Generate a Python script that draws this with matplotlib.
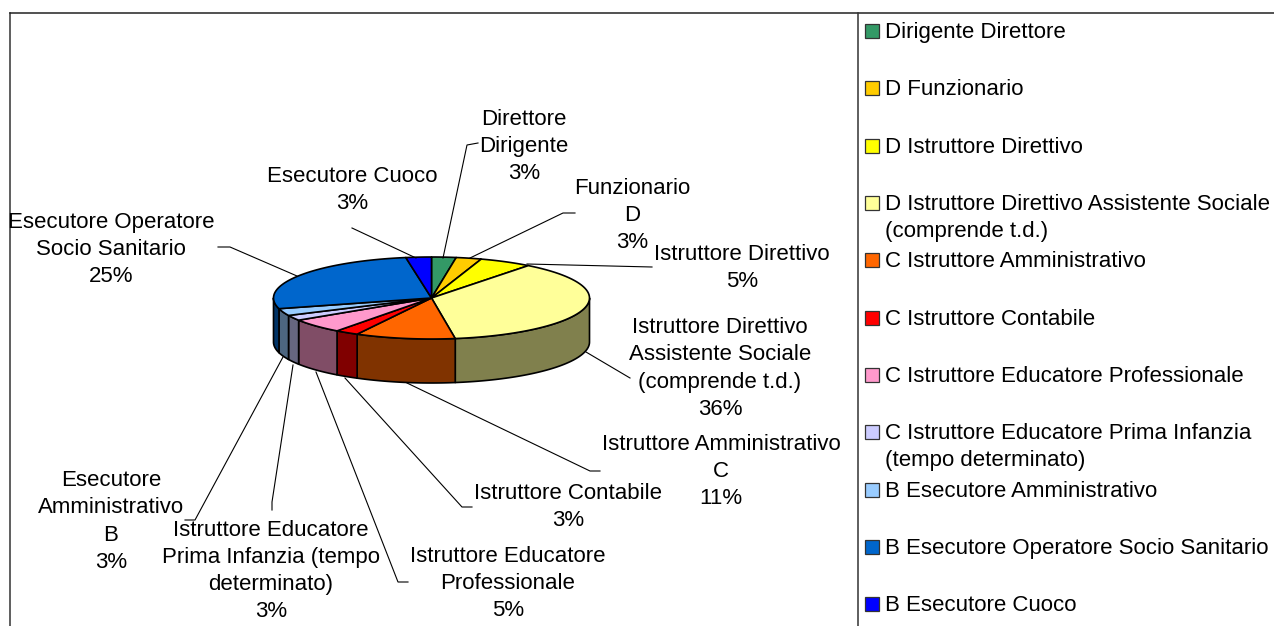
import matplotlib
matplotlib.use('Agg')
import matplotlib.pyplot as plt
from matplotlib.patches import Polygon, Rectangle
import numpy as np

plt.rcParams['font.family'] = ['Liberation Sans', 'DejaVu Sans']

# Slice shares as they are drawn in the picture (degrees of the ellipse, in %)
drawn_shares = [2.5, 2.6, 5.4, 37.1, 10.2, 2.4, 5.7, 2.1, 2.8, 26.6, 2.6]
# Percentages printed on the labels
percents = [3, 3, 5, 36, 11, 3, 5, 3, 3, 25, 3]
slice_names = ['Direttore\nDirigente', 'Funzionario\nD', 'Istruttore Direttivo',
               'Istruttore Direttivo\nAssistente Sociale\n(comprende t.d.)',
               'Istruttore Amministrativo\nC', 'Istruttore Contabile',
               'Istruttore Educatore\nProfessionale',
               'Istruttore Educatore\nPrima Infanzia (tempo\ndeterminato)',
               'Esecutore\nAmministrativo\nB',
               'Esecutore Operatore\nSocio Sanitario', 'Esecutore Cuoco']
legend_names = ['Dirigente Direttore', 'D Funzionario', 'D Istruttore Direttivo',
                'D Istruttore Direttivo Assistente Sociale\n(comprende t.d.)',
                'C Istruttore Amministrativo', 'C Istruttore Contabile',
                'C Istruttore Educatore Professionale',
                'C Istruttore Educatore Prima Infanzia\n(tempo determinato)',
                'B Esecutore Amministrativo', 'B Esecutore Operatore Socio Sanitario',
                'B Esecutore Cuoco']
colors = ['#339966', '#FFCC00', '#FFFF00', '#FFFF99', '#FF6600', '#FF0000',
          '#FF99CC', '#CCCCFF', '#99CCFF', '#0066CC', '#0000FF']

# Layout, in pixels of the image
label_pos = [(524, 146.5), (632, 215.5), (742, 268), (720, 368.5), (721, 471.5), (568, 507),
             (508, 583.5), (271, 571), (111, 521.5), (111, 249.5), (352, 190)]
leaders = [
    [(443, 258), (467, 145), (478, 143)],
    [(470, 258), (563, 213), (575, 213)],
    [(527, 264), (652, 267)],
    [(586, 352), (630, 378)],
    [(407, 383), (590, 471), (600, 471)],
    [(345, 378), (462, 507), (472, 507)],
    [(316, 372), (398, 582), (408, 582)],
    [(293, 365), (272, 502), (272, 510)],
    [(283, 357), (195, 520), (185, 520)],
    [(297, 276), (230, 247), (218, 247)],
    [(416, 258), (352, 228)],
]
legend_y = [30, 87, 145, 202, 259, 317, 374, 431, 489, 546, 603]
cx, cy, rx, ry, depth = 431.5, 298, 158, 41, 44

fig = plt.figure(figsize=(12.74, 6.26), dpi=100)
ax = fig.add_axes([0, 0, 1, 1])
ax.set_xlim(0, 1274)
ax.set_ylim(626, 0)
ax.axis('off')

# frame of the chart, cut off by the image on the right and at the bottom
ax.plot([9.5, 9.5], [13, 626], color='#333333', lw=1.1)
ax.plot([9.5, 1274], [13, 13], color='#222222', lw=1.1)
ax.plot([857.5, 857.5], [13, 626], color='#333333', lw=1.1)


def rim(t0, t1, y0):
    t = np.radians(np.linspace(t0, t1, 60))
    return np.column_stack([cx + rx * np.sin(t), y0 - ry * np.cos(t)])


def darker(c):
    return tuple(v * 0.5 for v in matplotlib.colors.to_rgb(c))


edges = np.concatenate([[0], np.cumsum(drawn_shares)]) / np.sum(drawn_shares) * 360

# side wall, only the front half of the ellipse shows
for i, c in enumerate(colors):
    t0, t1 = max(edges[i], 90), min(edges[i + 1], 270)
    if t1 <= t0:
        continue
    pts = np.vstack([rim(t0, t1, cy), rim(t1, t0, cy + depth)])
    ax.add_patch(Polygon(pts, closed=True, fc=darker(c), ec='black', lw=1.2, joinstyle='round'))

# top face
for i, c in enumerate(colors):
    pts = np.vstack([[(cx, cy)], rim(edges[i], edges[i + 1], cy)])
    ax.add_patch(Polygon(pts, closed=True, fc=c, ec='black', lw=1.2, joinstyle='round'))

for line in leaders:
    xs, ys = zip(*line)
    ax.plot(xs, ys, color='black', lw=0.8, zorder=1)

for name, pct, (x, y) in zip(slice_names, percents, label_pos):
    ax.text(x, y, f'{name}\n{pct}%', ha='center', va='center', fontsize=16,
            linespacing=1.38, color='black', zorder=5)

for name, c, y in zip(legend_names, colors, legend_y):
    ax.add_patch(Rectangle((865, y - 6.5), 14, 14, fc=c, ec='#333333', lw=0.9))
    ax.text(885, y - 8, name, ha='left', va='top', fontsize=16, linespacing=1.36, color='black')

fig.savefig('out.png', dpi=100)
